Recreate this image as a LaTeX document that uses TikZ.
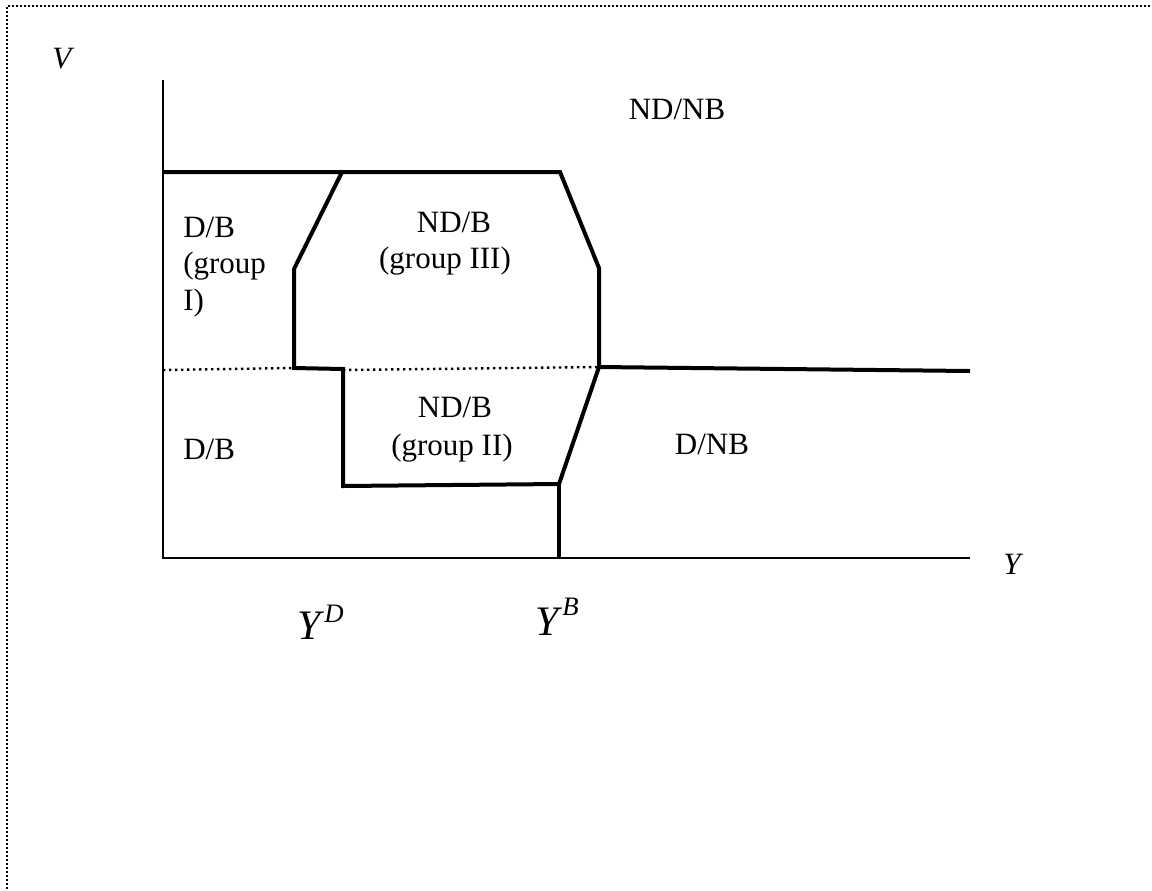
\documentclass[tikz,border=0pt]{standalone}
\usepackage{fontspec}
\setmainfont{Liberation Serif}
\begin{document}
\begin{tikzpicture}[x=0.75pt,y=-0.75pt,
  axis/.style={line width=1.6pt},
  bound/.style={line width=3pt},
  dotline/.style={line width=1.8pt,dash pattern=on 1.8pt off 2.7pt},
  frame/.style={line width=1.5pt,dash pattern=on 1.5pt off 1.5pt},
  lbl/.style={inner sep=0pt,anchor=base,font=\fontsize{23.25}{29}\selectfont},
  lblw/.style={lbl,anchor=base west},
  big/.style={inner sep=0pt,anchor=base west,font=\fontsize{31.5}{38}\selectfont}]
\useasboundingbox (0,0) rectangle (1152,890);
\clip (0,0) rectangle (1152,890);
\draw[frame] (7,905) -- (7,5.5) -- (1165,5.5);
% coordinates
\coordinate (O) at (163,558);
\coordinate (Vtop) at (163,80);
\coordinate (Yend) at (970,558);
\coordinate (TL) at (163,172);
\coordinate (TR) at (560,172);
\coordinate (R1) at (599,268);
\coordinate (R2) at (599,367);
\coordinate (RE) at (970,371);
\coordinate (L0) at (342,172);
\coordinate (L1) at (294,269);
\coordinate (L2) at (294,368);
\coordinate (L3) at (343,369);
\coordinate (L4) at (343,486);
\coordinate (B1) at (559,484);
\coordinate (B2) at (559,558);
\coordinate (D0) at (163,370);
\coordinate (D1) at (343,370);
% axes
\draw[axis] (Vtop) -- (O) -- (Yend);
% boundaries
\draw[dotline] (D0) -- (L2);
\draw[dotline] (D1) -- (R2);
\draw[bound] (TL) -- (TR) -- (R1) -- (R2) -- (RE);
\draw[bound] (L0) -- (L1) -- (L2) -- (L3) -- (L4) -- (B1) -- (R2);
\draw[bound] (B1) -- (B2);
% labels
\node[lblw] (V) at (52,68) {\textit{V}};
\node[lblw] (Y) at (1003,574) {\textit{Y}};
\node[lbl] (ndnb) at (677,119) {ND/NB};
\node[lblw] (db1a) at (183,237) {D/B};
\node[lblw] (db1b) at (183,273.5) {(group};
\node[lblw] (db1c) at (183,310) {I)};
\node[lbl] (nd3a) at (454,232) {ND/B};
\node[lbl] (nd3b) at (445,268) {(group III)};
\node[lbl] (nd2a) at (455,417) {ND/B};
\node[lbl] (nd2b) at (452,455) {(group II)};
\node[lblw] (db2) at (183,459) {D/B};
\node[lbl] (dnb) at (712,454) {D/NB};
\node[big] (YD) at (297,639) {\textit{Y}\raisebox{12.75pt}{\fontsize{20}{22}\selectfont\textit{D}}};
\node[big] (YB) at (535,635) {\textit{Y}\raisebox{15pt}{\fontsize{20}{22}\selectfont\textit{B}}};
\end{tikzpicture}
\end{document}
